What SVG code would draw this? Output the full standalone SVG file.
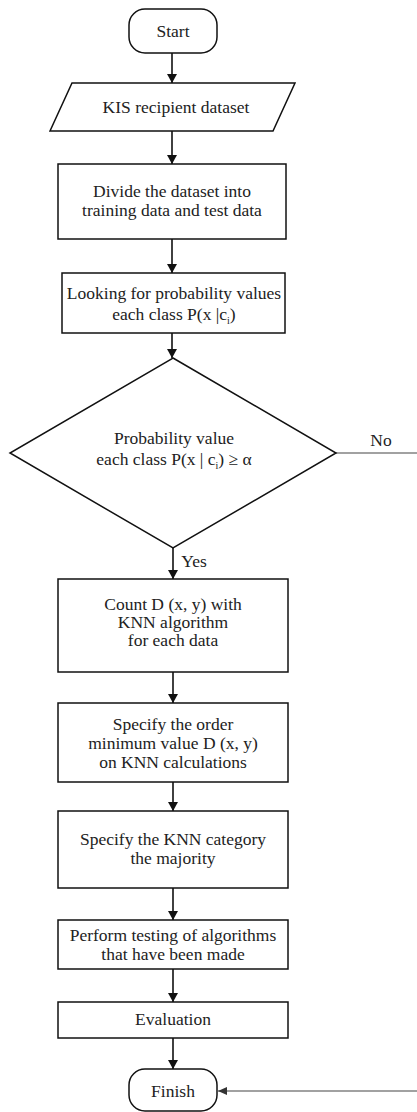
<svg xmlns="http://www.w3.org/2000/svg" width="417" height="1112" viewBox="0 0 417 1112">
<style>
.n{fill:#fff;stroke:#111;stroke-width:1.5}
.t{font-family:"Liberation Serif","Times New Roman",serif;font-size:17.5px;fill:#222;text-anchor:middle}
.c{stroke:#111;stroke-width:1.6;fill:none}
.g{stroke:#444;stroke-width:1.2;fill:none}
.s{font-size:10px}
</style>
<defs>
<marker id="ah" markerUnits="userSpaceOnUse" markerWidth="9" markerHeight="10" refX="9" refY="5" orient="auto">
<path d="M0,0 L9,5 L0,10 z" fill="#111"/>
</marker>
<marker id="ah2" markerUnits="userSpaceOnUse" markerWidth="9" markerHeight="8" refX="9" refY="4" orient="auto">
<path d="M0,0 L9,4 L0,8 z" fill="#333"/>
</marker>
</defs>
<rect width="417" height="1112" fill="#fff"/>
<g id="connectors">
<line class="c" x1="172" y1="53" x2="172" y2="83" marker-end="url(#ah)"/>
<line class="c" x1="172" y1="131" x2="172" y2="164" marker-end="url(#ah)"/>
<line class="c" x1="172" y1="239" x2="172" y2="273" marker-end="url(#ah)"/>
<line class="c" x1="172" y1="333" x2="172" y2="358" marker-end="url(#ah)"/>
<line class="c" x1="173" y1="548" x2="173" y2="579" marker-end="url(#ah)"/>
<line class="c" x1="173" y1="672" x2="173" y2="703" marker-end="url(#ah)"/>
<line class="c" x1="173" y1="782" x2="173" y2="811" marker-end="url(#ah)"/>
<line class="c" x1="173" y1="888" x2="173" y2="920" marker-end="url(#ah)"/>
<line class="c" x1="173" y1="969" x2="173" y2="1002" marker-end="url(#ah)"/>
<line class="c" x1="173" y1="1038" x2="173" y2="1069" marker-end="url(#ah)"/>
<line class="g" x1="336" y1="453" x2="417" y2="453"/>
<line class="g" x1="417" y1="1091" x2="218" y2="1091" marker-end="url(#ah2)"/>
<text class="t" x="194" y="567">Yes</text>
<text class="t" x="381" y="446">No</text>
</g>
<g id="start">
<rect class="n" x="129" y="9" width="88" height="44" rx="16"/>
<text class="t" x="173" y="37">Start</text>
</g>
<g id="dataset">
<polygon class="n" points="72,83 295,83 273,131 50,131"/>
<text class="t" x="176" y="113">KIS recipient dataset</text>
</g>
<g id="divide">
<rect class="n" x="58" y="164" width="228" height="75"/>
<text class="t" x="172" y="197">Divide the dataset into</text>
<text class="t" x="172" y="216">training data and test data</text>
</g>
<g id="looking">
<rect class="n" x="62" y="273" width="223" height="60"/>
<text class="t" x="174" y="299">Looking for probability values</text>
<text class="t" x="174" y="320">each class P(x |c<tspan class="s" dy="4">i</tspan><tspan dy="-4">)</tspan></text>
</g>
<g id="decision">
<polygon class="n" points="173,358 336,453 173,548 10,453"/>
<text class="t" x="174" y="444">Probability value</text>
<text class="t" x="174" y="465">each class P(x | c<tspan class="s" dy="4">i</tspan><tspan dy="-4">) ≥ α</tspan></text>
</g>
<g id="count">
<rect class="n" x="58" y="579" width="230" height="93"/>
<text class="t" x="173" y="610">Count D (x, y) with</text>
<text class="t" x="173" y="628">KNN algorithm</text>
<text class="t" x="173" y="646">for each data</text>
</g>
<g id="order">
<rect class="n" x="58" y="703" width="230" height="79"/>
<text class="t" x="173" y="730">Specify the order</text>
<text class="t" x="173" y="749">minimum value D (x, y)</text>
<text class="t" x="173" y="768">on KNN calculations</text>
</g>
<g id="category">
<rect class="n" x="58" y="811" width="230" height="77"/>
<text class="t" x="173" y="845">Specify the KNN category</text>
<text class="t" x="173" y="864">the majority</text>
</g>
<g id="testing">
<rect class="n" x="58" y="920" width="230" height="49"/>
<text class="t" x="173" y="941">Perform testing of algorithms</text>
<text class="t" x="173" y="960">that have been made</text>
</g>
<g id="evaluation">
<rect class="n" x="58" y="1002" width="230" height="36"/>
<text class="t" x="173" y="1025">Evaluation</text>
</g>
<g id="finish">
<rect class="n" x="129" y="1069" width="88" height="42" rx="16"/>
<text class="t" x="173" y="1097">Finish</text>
</g>
</svg>
